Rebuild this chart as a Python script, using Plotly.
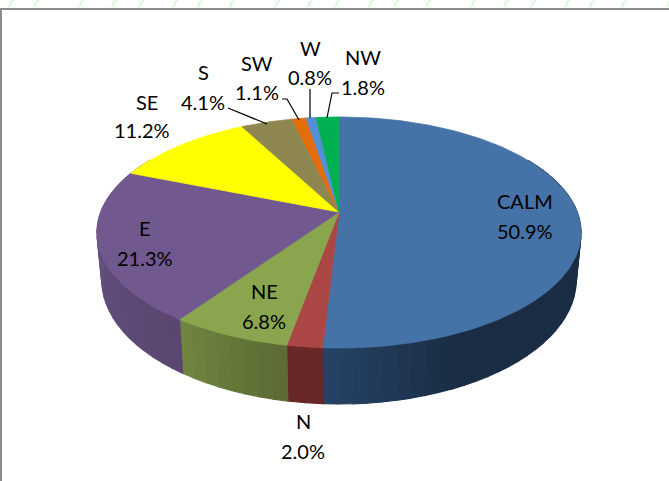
import numpy as np
import plotly.graph_objects as go

# ---- data ----
categories = ["CALM", "N", "NE", "E", "SE", "S", "SW", "W", "NW"]
values = [50.9, 2.0, 6.8, 21.3, 11.2, 4.1, 1.1, 0.8, 1.8]
value_labels = ["50.9%", "2.0%", "6.8%", "21.3%", "11.2%", "4.1%", "1.1%", "0.8%", "1.8%"]

# ---- style ----
top_colors = ["#4573a7", "#aa4643", "#89a54e", "#71588f", "#ffff00", "#8e8650", "#e46c0a", "#558ed5", "#00b050"]
side_from = ["#1a2d45", "#682827", "#5c6c34", "#5a4670", "#a8a800", "#5e5835", "#974807", "#385d8a", "#007434"]
side_to = ["#264568", "#682827", "#6f8540", "#6a5686", "#a8a800", "#5e5835", "#974807", "#385d8a", "#007434"]
FONT = "Lato"

# projection of the tilted disc onto the page
CX, CY = 339.0, 212.0
B, A, K = 238.2, 111.9, 0.1775
H = 46.0


def project(deg, r=1.0, drop=0.0, shrink=1.0):
    t = np.radians(deg)
    px, py = r * np.sin(t), r * np.cos(t)
    d = 1 + K * py
    return CX + shrink * B * px / d, CY - A * py / d + drop * H / d


def rgb(c):
    return np.array([int(c[i:i + 2], 16) for i in (1, 3, 5)], float)


def mix(a, b, f):
    v = rgb(a) * (1 - f) + rgb(b) * f
    return "rgb(%d,%d,%d)" % tuple(v.round())


fig = go.Figure()


def poly(xs, ys, color, w=0.8):
    fig.add_trace(go.Scatter(x=xs, y=ys, mode="lines", fill="toself", fillcolor=color,
                             line=dict(color=color, width=w), hoverinfo="skip", showlegend=False))


edges = np.concatenate([[0], np.cumsum(values)]) / sum(values) * 360

# side wall
for i in range(len(values)):
    a0, a1 = edges[i], edges[i + 1]
    lo, hi = max(a0, 60), min(a1, 300)
    if hi <= lo:
        continue
    n = max(2, int((hi - lo) / 3))
    steps = np.linspace(lo, hi, n + 1)
    for j in range(n):
        seg = np.linspace(steps[j], steps[j + 1], 3)
        tx, ty = project(seg)
        bx, by = project(seg, drop=1.0, shrink=0.98)
        if i == 0:
            f = 1 - min(1.0, (hi - steps[j]) / 28)
        else:
            f = j / max(1, n - 1)
        poly(np.r_[tx, bx[::-1], tx[0]], np.r_[ty, by[::-1], ty[0]], mix(side_from[i], side_to[i], f), 1.2)

# top face
for i in range(len(values)):
    seg = np.linspace(edges[i], edges[i + 1], max(3, int(values[i] * 4)))
    x, y = project(seg)
    poly(np.r_[CX, x, CX], np.r_[CY, y, CY], top_colors[i])

# leader lines
leaders = {
    "S": ([228, 267], [108, 124]),
    "SW": ([282, 287, 299], [99, 99, 120]),
    "W": ([310, 310], [89, 118]),
    "NW": ([339, 332, 327], [93, 93, 118]),
}
for xs, ys in leaders.values():
    fig.add_trace(go.Scatter(x=xs, y=ys, mode="lines", line=dict(color="#000000", width=1.2),
                             hoverinfo="skip", showlegend=False))

# labels: centre of the name line and of the value line
label_pos = {
    "CALM": (525, 201, 525, 231), "N": (303, 421, 303, 451), "NE": (264, 291, 264, 321),
    "E": (145, 228, 145, 258), "SE": (147, 102, 142, 130), "S": (203, 72, 203, 102),
    "SW": (257, 63, 257, 92), "W": (310, 48, 310, 77), "NW": (363, 57, 363, 87),
}
anns = []
for name, val in zip(categories, value_labels):
    x0, y0, x1, y1 = label_pos[name]
    for tx, ty, s in ((x0, y0, name), (x1, y1, val)):
        anns.append(dict(x=tx, y=ty, text=s, showarrow=False, xanchor="center", yanchor="middle",
                         font=dict(family=FONT, size=20, color="#000000")))

# frame and faint page decoration
shapes = [
    dict(type="line", x0=1, x1=1, y0=9, y1=481, line=dict(color="#8c8c8c", width=2)),
    dict(type="line", x0=0, x1=669, y0=9, y1=9, line=dict(color="#8c8c8c", width=2)),
]
for sx in [8, 33, 78, 111, 138, 172, 197, 229, 274, 307, 334, 368, 393, 425, 470, 503, 530, 564, 589, 621, 666]:
    shapes.append(dict(type="path", path=f"M {sx},7 L {sx+3},5 L {sx+2},3 L {sx+6},0",
                       line=dict(color="#d6f7d6", width=1.5)))

fig.update_layout(
    width=669, height=481, margin=dict(l=0, r=0, t=0, b=0),
    paper_bgcolor="#ffffff", plot_bgcolor="#ffffff", showlegend=False,
    xaxis=dict(range=[0, 669], visible=False, fixedrange=True),
    yaxis=dict(range=[481, 0], visible=False, fixedrange=True),
    annotations=anns, shapes=shapes,
)
fig.write_html("out.html", config=dict(displayModeBar=False),
               post_script="document.body.style.margin='0';document.documentElement.style.overflow='hidden';")
